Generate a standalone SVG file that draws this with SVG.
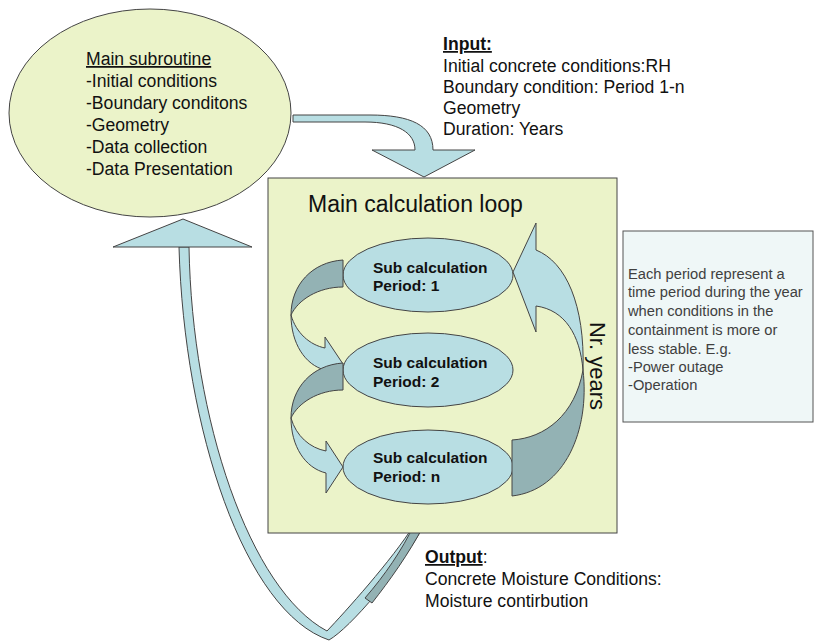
<svg xmlns="http://www.w3.org/2000/svg" width="814" height="641" viewBox="0 0 814 641">
<style>
text{font-family:"Liberation Sans",Arial,sans-serif;fill:#111}
.t16{font-size:17.6px}
.sub{font-size:15.5px;font-weight:bold}
.info{font-size:14.7px;fill:#404040}
.yel{fill:#ebf3c9;stroke:#444;stroke-width:1}
.blue{fill:#b8dee3;stroke:#444;stroke-width:1}
.dark{fill:#93b2b4;stroke:#444;stroke-width:1}
</style>
<rect width="814" height="641" fill="#fff"/>
<g id="connectors">
  <!-- return arrow from main loop to main subroutine -->
  <path class="blue" d="M179,247 L189,247 C192,420 250,590 327,631 C345,612 392,560 414,525 L424,525 C400,570 350,628 329,640 C245,612 184,430 179,247 Z"/>
  <path class="dark" d="M414,525 L424,525 C408,555 390,580 372,603 L365,598 C385,575 402,550 414,525 Z"/>
  <polygon class="blue" points="113,247 183,219 252,247"/>
  <!-- input arrow -->
  <path class="blue" d="M293,115 L370,115 C410,115 433,125 433,150 L475,150 L424,177 L372,150 L415,150 C415,133 398,122 365,122 L293,122 Z"/>
</g>
<g id="main-subroutine">
  <ellipse class="yel" cx="150" cy="113" rx="141" ry="104"/>
  <text class="t16" x="86" y="65" text-decoration="underline">Main subroutine</text>
  <text class="t16" x="86" y="87">-Initial conditions</text>
  <text class="t16" x="86" y="109">-Boundary conditons</text>
  <text class="t16" x="86" y="131">-Geometry</text>
  <text class="t16" x="86" y="153">-Data collection</text>
  <text class="t16" x="86" y="175">-Data Presentation</text>
</g>
<g id="input">
  <text class="t16" x="443" y="50" font-weight="bold" text-decoration="underline">Input:</text>
  <text class="t16" x="443" y="72">Initial concrete conditions:RH</text>
  <text class="t16" x="443" y="93">Boundary condition: Period 1-n</text>
  <text class="t16" x="443" y="114">Geometry</text>
  <text class="t16" x="443" y="135">Duration: Years</text>
</g>
<g id="main-loop">
  <rect class="yel" x="268" y="178" width="349" height="355"/>
  <text x="308" y="212" font-size="23">Main calculation loop</text>
</g>
<g id="sub1">
  <ellipse class="blue" cx="428" cy="275" rx="85" ry="37"/>
  <text class="sub" x="373" y="273">Sub calculation</text>
  <text class="sub" x="373" y="291">Period: 1</text>
</g>
<g id="sub2">
  <ellipse class="blue" cx="428" cy="370" rx="85" ry="37"/>
  <text class="sub" x="373" y="368">Sub calculation</text>
  <text class="sub" x="373" y="387">Period: 2</text>
</g>
<g id="subn">
  <ellipse class="blue" cx="428" cy="467" rx="85" ry="37"/>
  <text class="sub" x="373" y="463">Sub calculation</text>
  <text class="sub" x="373" y="482">Period: n</text>
</g>
<g id="loop-arrows">
  <path class="dark" d="M343,260 C312,262 291,285 291,315 C298,300 318,287 343,287 Z"/>
  <path class="blue" d="M291,315 C291,343 305,365 325,370 L325,390 L343,364 L325,337 L325,348 C310,345 296,333 291,315 Z"/>
  <path class="dark" d="M343,363 C312,365 291,388 291,418 C298,403 318,390 343,390 Z"/>
  <path class="blue" d="M291,418 C291,446 305,468 326,473 L326,493 L343,467 L326,441 L326,451 C310,448 296,436 291,418 Z"/>
  <path class="blue" d="M513,272 L536,223 L536,250 C566,262 585,305 583,370 C580,335 565,310 536,306 L536,332 Z"/>
  <path class="dark" d="M583,370 C590,430 565,490 512,496 L512,440 C545,438 575,415 583,370 Z"/>
  <text x="0" y="0" font-size="22" text-anchor="middle" transform="translate(590,366) rotate(90)">Nr. years</text>
</g>
<g id="info">
  <rect x="623" y="231" width="190" height="191" fill="#eff7f7" stroke="#555" stroke-width="1"/>
  <text class="info" x="628" y="279">Each period represent a</text>
  <text class="info" x="628" y="297">time period during the year</text>
  <text class="info" x="628" y="316">when conditions in the</text>
  <text class="info" x="628" y="335">containment is more or</text>
  <text class="info" x="628" y="354">less stable. E.g.</text>
  <text class="info" x="628" y="372">-Power outage</text>
  <text class="info" x="628" y="390">-Operation</text>
</g>
<g id="output">
  <text class="t16" x="425" y="563"><tspan font-weight="bold" text-decoration="underline">Output</tspan>:</text>
  <text class="t16" x="425" y="585">Concrete Moisture Conditions:</text>
  <text class="t16" x="425" y="607">Moisture contirbution</text>
</g>
</svg>
